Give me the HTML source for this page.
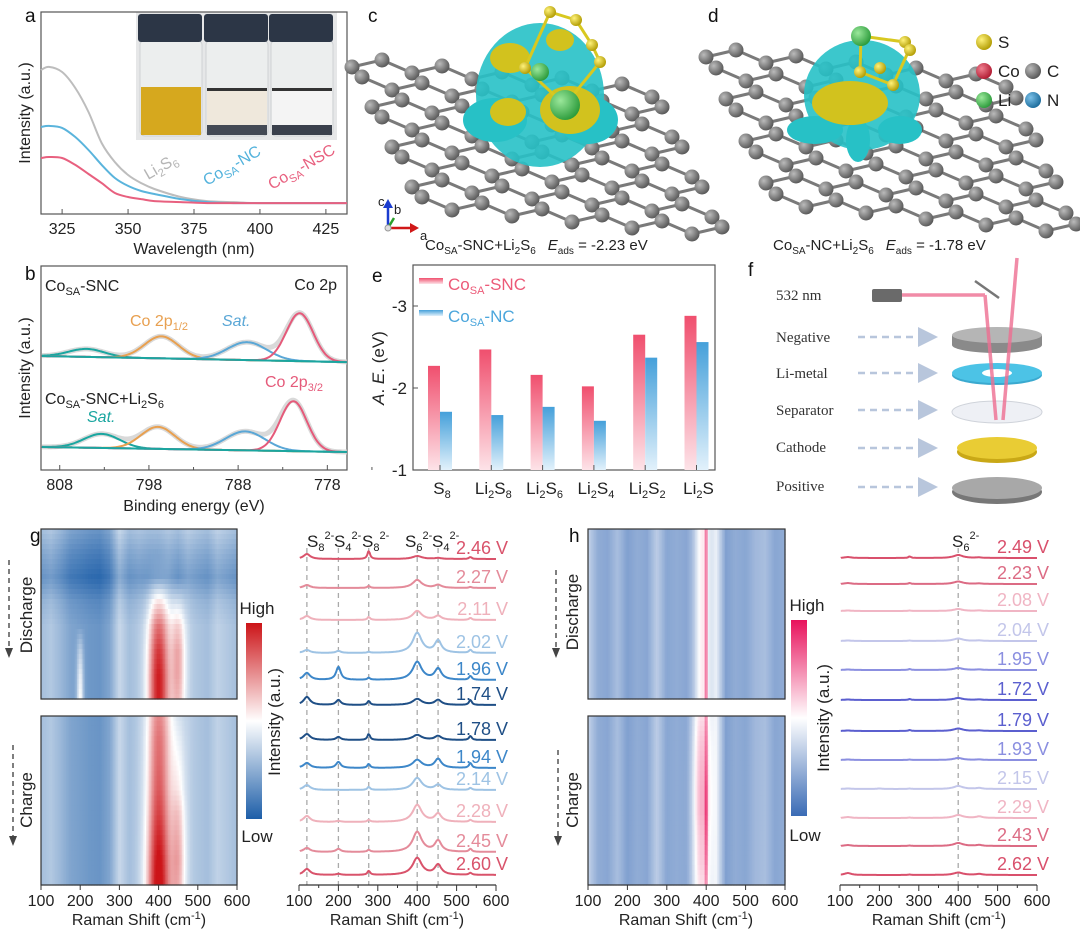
<!DOCTYPE html>
<html><head><meta charset="utf-8"><style>
html,body{margin:0;padding:0;background:#fff;}
svg{display:block;font-family:"Liberation Sans",sans-serif;}
.t{font-size:16px;fill:#222}
.serif{font-family:"Liberation Serif",serif;font-size:15px;fill:#333}
</style></head><body>
<svg id="fig" width="1080" height="937" viewBox="0 0 1080 937" xmlns="http://www.w3.org/2000/svg">
<defs>
<linearGradient id="gp" x1="0" y1="0" x2="0" y2="1"><stop offset="0" stop-color="#f04f6e"/><stop offset="1" stop-color="#fde3e8"/></linearGradient>
<linearGradient id="gb" x1="0" y1="0" x2="0" y2="1"><stop offset="0" stop-color="#45a0da"/><stop offset="1" stop-color="#e2f1fb"/></linearGradient>
<linearGradient id="cbg" x1="0" y1="1" x2="0" y2="0"><stop offset="0" stop-color="#1d5ea8"/><stop offset="0.5" stop-color="#ffffff"/><stop offset="1" stop-color="#cc1418"/></linearGradient>
<linearGradient id="cbh" x1="0" y1="1" x2="0" y2="0"><stop offset="0" stop-color="#3a6bb5"/><stop offset="0.5" stop-color="#ffffff"/><stop offset="1" stop-color="#e8125c"/></linearGradient>
<radialGradient id="atomC" cx="0.35" cy="0.35" r="0.7"><stop offset="0" stop-color="#bbb"/><stop offset="1" stop-color="#555"/></radialGradient>
<radialGradient id="atomS" cx="0.35" cy="0.35" r="0.7"><stop offset="0" stop-color="#fff27a"/><stop offset="1" stop-color="#b09a00"/></radialGradient>
<radialGradient id="atomLi" cx="0.35" cy="0.35" r="0.7"><stop offset="0" stop-color="#9be89b"/><stop offset="1" stop-color="#2a9a3a"/></radialGradient>
<radialGradient id="atomCo" cx="0.35" cy="0.35" r="0.7"><stop offset="0" stop-color="#f08090"/><stop offset="1" stop-color="#b01830"/></radialGradient>
<radialGradient id="atomN" cx="0.35" cy="0.35" r="0.7"><stop offset="0" stop-color="#7ac0e8"/><stop offset="1" stop-color="#1a6a9a"/></radialGradient>
<marker id="arrB" markerWidth="8" markerHeight="8" refX="4" refY="4" orient="auto"><path d="M0,0 L8,4 L0,8 z" fill="#b8c6dc"/></marker>
</defs>

<g id="panelA">
<text x="25" y="22" font-size="19" fill="#111">a</text>
<g>
<rect x="136" y="12" width="201" height="128" fill="#e6e7e8"/>
<rect x="140" y="40" width="62" height="96" rx="5" fill="#eceeee" stroke="#cfd2d4"/>
<rect x="141" y="87" width="60" height="48" fill="#d6a81e"/>
<rect x="206" y="40" width="62" height="96" rx="5" fill="#eceeee" stroke="#cfd2d4"/>
<rect x="207" y="90" width="60" height="36" fill="#efe8dc"/><rect x="207" y="88" width="60" height="3" fill="#333"/><rect x="207" y="125" width="60" height="10" fill="#444a55"/>
<rect x="271" y="40" width="62" height="96" rx="5" fill="#eceeee" stroke="#cfd2d4"/>
<rect x="272" y="90" width="60" height="36" fill="#f4f4f4"/><rect x="272" y="88" width="60" height="3" fill="#333"/><rect x="272" y="125" width="60" height="10" fill="#3a404c"/>
<rect x="138" y="14" width="64" height="28" rx="3" fill="#2c3646"/>
<rect x="204" y="14" width="64" height="28" rx="3" fill="#2c3646"/>
<rect x="269" y="14" width="64" height="28" rx="3" fill="#2c3646"/>
</g>
<rect x="41" y="12" width="306" height="202" fill="none" stroke="#555" stroke-width="1.2"/>
<g id="aCurves"></g><g id="aTicks"></g>
<text x="148" y="180" font-size="16" fill="#b5b5b5" transform="rotate(-30 148 180)">Li<tspan font-size="11" dy="4">2</tspan><tspan dy="-4">S</tspan><tspan font-size="11" dy="4">6</tspan></text>
<text x="207" y="186" font-size="16" fill="#52b2dc" transform="rotate(-30 207 186)">Co<tspan font-size="11" dy="4">SA</tspan><tspan dy="-4">-NC</tspan></text>
<text x="272" y="190" font-size="16" fill="#e8607f" transform="rotate(-30 272 190)">Co<tspan font-size="11" dy="4">SA</tspan><tspan dy="-4">-NSC</tspan></text>
<text x="30" y="113" class="t" text-anchor="middle" transform="rotate(-90 30 113)">Intensity (a.u.)</text>
<text x="194" y="254" class="t" text-anchor="middle">Wavelength (nm)</text>
</g>

<g id="panelB">
<text x="25" y="280" font-size="19" fill="#111">b</text>
<rect x="41" y="266" width="306" height="204" fill="none" stroke="#555" stroke-width="1.2"/>
<g id="bCurves"></g><g id="bTicks"></g>
<text x="45" y="291" font-size="16" fill="#222">Co<tspan font-size="11" dy="4">SA</tspan><tspan dy="-4">-SNC</tspan></text>
<text x="337" y="290" font-size="16" fill="#222" text-anchor="end">Co 2p</text>
<text x="130" y="326" font-size="16" fill="#e8a050">Co 2p<tspan font-size="11" dy="4">1/2</tspan></text>
<text x="222" y="326" font-size="16" fill="#5aa7d6" font-style="italic">Sat.</text>
<text x="45" y="404" font-size="16" fill="#222">Co<tspan font-size="11" dy="4">SA</tspan><tspan dy="-4">-SNC+Li</tspan><tspan font-size="11" dy="4">2</tspan><tspan dy="-4">S</tspan><tspan font-size="11" dy="4">6</tspan></text>
<text x="265" y="387" font-size="16" fill="#e55a7a">Co 2p<tspan font-size="11" dy="4">3/2</tspan></text>
<text x="87" y="422" font-size="16" fill="#1aa6a0" font-style="italic">Sat.</text>
<text x="30" y="368" class="t" text-anchor="middle" transform="rotate(-90 30 368)">Intensity (a.u.)</text>
<text x="194" y="511" class="t" text-anchor="middle">Binding energy (eV)</text>
</g>

<g id="panelC">
<text x="368" y="22" font-size="19" fill="#111">c</text>
<g id="latC"></g>
<g>
<ellipse cx="540" cy="95" rx="64" ry="72" fill="#27c1c6" opacity="0.9"/>
<ellipse cx="495" cy="120" rx="32" ry="22" fill="#27c1c6"/>
<ellipse cx="588" cy="120" rx="30" ry="24" fill="#27c1c6"/>
<ellipse cx="510" cy="58" rx="20" ry="15" fill="#d2c21e"/>
<ellipse cx="570" cy="110" rx="30" ry="24" fill="#d2c21e"/>
<ellipse cx="508" cy="112" rx="18" ry="14" fill="#d2c21e"/>
<ellipse cx="560" cy="40" rx="14" ry="11" fill="#d2c21e"/>
<polyline points="550,12 576,20 592,45 600,62 565,105 525,68 550,12" fill="none" stroke="#d8c820" stroke-width="3"/>
<circle cx="550" cy="12" r="6" fill="url(#atomS)"/><circle cx="576" cy="20" r="6" fill="url(#atomS)"/><circle cx="592" cy="45" r="6" fill="url(#atomS)"/><circle cx="600" cy="62" r="6" fill="url(#atomS)"/><circle cx="525" cy="68" r="6" fill="url(#atomS)"/>
<circle cx="540" cy="72" r="9" fill="url(#atomLi)"/>
<circle cx="565" cy="105" r="15" fill="url(#atomLi)"/>
</g>
<g>
<line x1="388" y1="228" x2="388" y2="206" stroke="#1a3ccf" stroke-width="2.5"/><path d="M383,208 L388,199 L393,208z" fill="#1a3ccf"/>
<line x1="388" y1="228" x2="412" y2="228" stroke="#d01818" stroke-width="2.5"/><path d="M410,223 L419,228 L410,233z" fill="#d01818"/>
<line x1="388" y1="228" x2="394" y2="218" stroke="#2aa02a" stroke-width="2.5"/>
<circle cx="388" cy="228" r="3" fill="#ddd" stroke="#999"/>
<text x="378" y="206" font-size="13" fill="#222">c</text><text x="394" y="214" font-size="13" fill="#222">b</text><text x="420" y="240" font-size="13" fill="#222">a</text>
</g>
<text x="425" y="250" font-size="15" fill="#222">Co<tspan font-size="10" dy="4">SA</tspan><tspan dy="-4">-SNC+Li</tspan><tspan font-size="10" dy="4">2</tspan><tspan dy="-4">S</tspan><tspan font-size="10" dy="4">6</tspan><tspan dy="-4" dx="12" font-style="italic">E</tspan><tspan font-size="10" dy="4">ads</tspan><tspan dy="-4"> = -2.23 eV</tspan></text>
</g>

<g id="panelD">
<text x="708" y="22" font-size="19" fill="#111">d</text>
<g id="latD"></g>
<g>
<ellipse cx="862" cy="95" rx="58" ry="55" fill="#27c1c6" opacity="0.9"/>
<ellipse cx="815" cy="130" rx="28" ry="14" fill="#27c1c6"/>
<ellipse cx="900" cy="130" rx="22" ry="14" fill="#27c1c6"/>
<ellipse cx="858" cy="140" rx="12" ry="22" fill="#27c1c6"/>
<ellipse cx="850" cy="103" rx="38" ry="22" fill="#d2c21e"/>
<polyline points="861,36 905,42 910,48 893,85 860,72 861,36" fill="none" stroke="#d8c820" stroke-width="3"/>
<circle cx="905" cy="42" r="6" fill="url(#atomS)"/><circle cx="910" cy="50" r="6" fill="url(#atomS)"/><circle cx="893" cy="85" r="6" fill="url(#atomS)"/><circle cx="860" cy="72" r="6" fill="url(#atomS)"/><circle cx="880" cy="68" r="6" fill="url(#atomS)"/>
<circle cx="861" cy="36" r="10" fill="url(#atomLi)"/>
</g>
<g>
<circle cx="984" cy="42" r="8" fill="url(#atomS)"/><text x="998" y="48" font-size="17" fill="#222">S</text>
<circle cx="984" cy="71" r="8" fill="url(#atomCo)"/><text x="998" y="77" font-size="17" fill="#222">Co</text>
<circle cx="1033" cy="71" r="8" fill="url(#atomC)"/><text x="1047" y="77" font-size="17" fill="#222">C</text>
<circle cx="984" cy="100" r="8" fill="url(#atomLi)"/><text x="998" y="106" font-size="17" fill="#222">Li</text>
<circle cx="1033" cy="100" r="8" fill="url(#atomN)"/><text x="1047" y="106" font-size="17" fill="#222">N</text>
</g>
<text x="773" y="250" font-size="15" fill="#222">Co<tspan font-size="10" dy="4">SA</tspan><tspan dy="-4">-NC+Li</tspan><tspan font-size="10" dy="4">2</tspan><tspan dy="-4">S</tspan><tspan font-size="10" dy="4">6</tspan><tspan dy="-4" dx="12" font-style="italic">E</tspan><tspan font-size="10" dy="4">ads</tspan><tspan dy="-4"> = -1.78 eV</tspan></text>
</g>

<g id="panelE">
<text x="372" y="282" font-size="19" fill="#111">e</text>
<rect x="413" y="265" width="302" height="205" fill="none" stroke="#555" stroke-width="1.2"/>
<g id="eBars"></g>
<rect x="419" y="278" width="24" height="6" fill="url(#gp)"/>
<text x="448" y="290" font-size="17" fill="#ec5a78">Co<tspan font-size="11" dy="4">SA</tspan><tspan dy="-4">-SNC</tspan></text>
<rect x="419" y="310" width="24" height="6" fill="url(#gb)"/>
<text x="448" y="322" font-size="17" fill="#4ba6dc">Co<tspan font-size="11" dy="4">SA</tspan><tspan dy="-4">-NC</tspan></text>
<text x="384" y="368" font-size="17" fill="#222" text-anchor="middle" transform="rotate(-90 384 368)"><tspan font-style="italic">A</tspan>. <tspan font-style="italic">E</tspan>. (eV)</text>
</g>

<g id="panelF">
<text x="748" y="276" font-size="19" fill="#111">f</text>
<text x="776" y="300" class="serif">532 nm</text>
<text x="776" y="342" class="serif">Negative</text>
<text x="776" y="378" class="serif">Li-metal</text>
<text x="776" y="415" class="serif">Separator</text>
<text x="776" y="452" class="serif">Cathode</text>
<text x="776" y="491" class="serif">Positive</text>
<g stroke="#b8c6dc" stroke-width="2.5" stroke-dasharray="7,5" fill="none">
<line x1="858" y1="337" x2="928" y2="337" marker-end="url(#arrB)"/>
<line x1="858" y1="373" x2="928" y2="373" marker-end="url(#arrB)"/>
<line x1="858" y1="410" x2="928" y2="410" marker-end="url(#arrB)"/>
<line x1="858" y1="448" x2="928" y2="448" marker-end="url(#arrB)"/>
<line x1="858" y1="487" x2="928" y2="487" marker-end="url(#arrB)"/>
</g>
<rect x="872" y="289" width="30" height="13" rx="2" fill="#6a6a6a"/>
<line x1="975" y1="281" x2="999" y2="298" stroke="#777" stroke-width="2.5"/>
<g><ellipse cx="997" cy="492" rx="45" ry="12" fill="#777"/><ellipse cx="997" cy="488" rx="45" ry="11" fill="#a8a8a8"/></g>
<g><ellipse cx="997" cy="452" rx="40" ry="11" fill="#c9a816"/><ellipse cx="997" cy="448" rx="40" ry="11" fill="#e9cc34"/></g>
<ellipse cx="997" cy="412" rx="45" ry="11" fill="#eef0f5" stroke="#cfd3da"/>
<g><ellipse cx="997" cy="375" rx="45" ry="10" fill="#3aa9cf"/><ellipse cx="997" cy="373" rx="45" ry="10" fill="#4cc3e6"/><ellipse cx="997" cy="373" rx="15" ry="4" fill="#fff"/></g>
<g><rect x="952" y="335" width="90" height="10" fill="#8a8a8a"/><ellipse cx="997" cy="345" rx="45" ry="8" fill="#8a8a8a"/><ellipse cx="997" cy="335" rx="45" ry="8" fill="#b5b5b5"/></g>
<g stroke="#ee6f92" stroke-width="3.5" opacity="0.8" fill="none">
<line x1="902" y1="295" x2="985" y2="295"/>
<line x1="985" y1="295" x2="996" y2="420"/>
<line x1="1003" y1="420" x2="1017" y2="258"/>
</g>
</g>

<g id="panelG">
<g id="gHeat"></g>
<rect x="41" y="529" width="196" height="170" fill="none" stroke="#333" stroke-width="1.2"/>
<rect x="41" y="716" width="196" height="169" fill="none" stroke="#333" stroke-width="1.2"/>
<text x="30" y="542" font-size="19" fill="#111">g</text>
<text x="32" y="615" font-size="17" fill="#222" text-anchor="middle" transform="rotate(-90 32 615)">Discharge</text>
<line x1="9" y1="560" x2="9" y2="648" stroke="#555" stroke-width="1.5" stroke-dasharray="5,4"/><path d="M5,648 L13,648 L9,658z" fill="#444"/>
<text x="32" y="800" font-size="17" fill="#222" text-anchor="middle" transform="rotate(-90 32 800)">Charge</text>
<line x1="13" y1="745" x2="13" y2="836" stroke="#555" stroke-width="1.5" stroke-dasharray="5,4"/><path d="M9,836 L17,836 L13,846z" fill="#444"/>
<rect x="246" y="623" width="16" height="196" fill="url(#cbg)"/>
<text x="257" y="614" font-size="17" fill="#222" text-anchor="middle">High</text>
<text x="257" y="842" font-size="17" fill="#222" text-anchor="middle">Low</text>
<text x="280" y="722" font-size="17" fill="#222" text-anchor="middle" transform="rotate(-90 280 722)">Intensity (a.u.)</text>
<text x="139" y="925" font-size="16" fill="#222" text-anchor="middle">Raman Shift (cm<tspan font-size="11" dy="-6">-1</tspan><tspan dy="6">)</tspan></text>
<g id="gSpec"></g>
<text x="397" y="925" font-size="16" fill="#222" text-anchor="middle">Raman Shift (cm<tspan font-size="11" dy="-6">-1</tspan><tspan dy="6">)</tspan></text>
</g>

<g id="panelH">
<g id="hHeat"></g>
<rect x="588" y="529" width="197" height="170" fill="none" stroke="#333" stroke-width="1.2"/>
<rect x="588" y="716" width="197" height="169" fill="none" stroke="#333" stroke-width="1.2"/>
<text x="569" y="542" font-size="19" fill="#111">h</text>
<text x="578" y="612" font-size="17" fill="#222" text-anchor="middle" transform="rotate(-90 578 612)">Discharge</text>
<line x1="556" y1="570" x2="556" y2="648" stroke="#555" stroke-width="1.5" stroke-dasharray="5,4"/><path d="M552,648 L560,648 L556,658z" fill="#444"/>
<text x="578" y="800" font-size="17" fill="#222" text-anchor="middle" transform="rotate(-90 578 800)">Charge</text>
<line x1="558" y1="750" x2="558" y2="836" stroke="#555" stroke-width="1.5" stroke-dasharray="5,4"/><path d="M554,836 L562,836 L558,846z" fill="#444"/>
<rect x="791" y="620" width="16" height="196" fill="url(#cbh)"/>
<text x="807" y="611" font-size="17" fill="#222" text-anchor="middle">High</text>
<text x="805" y="841" font-size="17" fill="#222" text-anchor="middle">Low</text>
<text x="829" y="718" font-size="17" fill="#222" text-anchor="middle" transform="rotate(-90 829 718)">Intensity (a.u.)</text>
<text x="686" y="925" font-size="16" fill="#222" text-anchor="middle">Raman Shift (cm<tspan font-size="11" dy="-6">-1</tspan><tspan dy="6">)</tspan></text>
<g id="hSpec"></g>
<text x="939" y="925" font-size="16" fill="#222" text-anchor="middle">Raman Shift (cm<tspan font-size="11" dy="-6">-1</tspan><tspan dy="6">)</tspan></text>
</g>
</svg>

<script>
const aWavelengths = [317,320,325,330,335,340,345,350,355,360,370,380,390,400,433];
const aLi2S6 = [0.713,0.728,0.703,0.624,0.505,0.351,0.257,0.193,0.153,0.124,0.084,0.064,0.059,0.054,0.054];
const aCoNC  = [0.431,0.436,0.426,0.381,0.317,0.243,0.178,0.139,0.114,0.099,0.074,0.059,0.054,0.054,0.054];
const aCoNSC = [0.277,0.282,0.277,0.243,0.198,0.153,0.104,0.084,0.074,0.064,0.059,0.054,0.054,0.054,0.054];
const aTicks = [325,350,375,400,425];
const bCenters = [805.0,796.6,787.0,781.1];
const bTopAmps = [0.39,1.08,0.88,2.35];
const bBotCenters = [803.3,797.0,787.2,781.8];
const bBotAmps = [0.69,1.08,0.93,2.45];
const bSigmas = [2.0,1.9,2.2,1.5];
const bTopBase = [5.59,5.29];
const bBotBase = [1.13,0.88];
const bTicks = [808,798,788,778];
const eCategories = ['S8','Li2S8','Li2S6','Li2S4','Li2S2','Li2S'];
const eSNC = [-2.27,-2.47,-2.16,-2.02,-2.65,-2.88];
const eNC  = [-1.71,-1.67,-1.77,-1.60,-2.37,-2.56];
const eTicks = [-3,-2,-1];
const ramanPeaks = [120,200,277,400,453,535];
const ramanWidths = [10,7,4,14,10,4];
const ramanTicks = [100,200,300,400,500,600];
const gVoltages = ['2.46 V','2.27 V','2.11 V','2.02 V','1.96 V','1.74 V','1.78 V','1.94 V','2.14 V','2.28 V','2.45 V','2.60 V'];
const gAmps = [[5,0,8,3,1,2],[3,0,2,8,3,1],[4,0,3,9,4,2],[3,2,1,20,12,3],[7,13,2,18,11,4],[8,5,4,6,5,5],[6,3,6,5,4,4],[5,6,4,8,9,5],[5,0,3,12,5,2],[6,1,2,17,8,2],[4,3,2,20,11,3],[6,1,4,17,10,2]];
const gBaselines = [559,588,620,653,680,705,740,768,790,822,852,875];
const gColors = ['#d9536b','#e48b9a','#efb1bb','#9ec3e4','#3d87c9','#1f4f86','#1f4f86','#3d87c9','#9ec3e4','#efb1bb','#e48b9a','#d9536b'];
const gDashed = [120,200,277,400,453];
const hVoltages = ['2.49 V','2.23 V','2.08 V','2.04 V','1.95 V','1.72 V','1.79 V','1.93 V','2.15 V','2.29 V','2.43 V','2.62 V'];
const hAmps = [[1,0,1.5,3,0.5,0],[1,0,1,2.5,0.5,0],[0.5,0,0.5,2,0.5,0],[0.5,0,0.5,2.5,0.5,0],[0.5,0,1,2,0.5,0],[0.5,0,1,2,0.5,0],[0.5,0,1,2.5,0.5,0],[0.5,0,0.5,2,0.5,0],[0.5,0.5,0.5,3,1,0],[1,0,0.5,3,1.5,0],[1,0,0.5,3,1,0],[2,0,0.5,2.5,1,0]];
const hBaselines = [558,584,611,641,670,700,731,760,789,818,846,875];
const hColors = ['#d9506c','#dc6b84','#f0b5c4','#c3c6ea','#8b8fe0','#5b5fcf','#5b5fcf','#8b8fe0','#c3c6ea','#f0b5c4','#dc6b84','#d9506c'];
const heatShifts = [100,125,150,175,200,225,250,275,300,325,350,375,400,425,450,475,500,525,550,575,600];
const gStripes = [0.30,0.33,0.28,0.22,0.20,0.18,0.17,0.22,0.38,0.30,0.32,0.30,0.30,0.33,0.30,0.35,0.32,0.30,0.36,0.33,0.30];
const gTopRowOffset = [0,-0.08,-0.14,-0.04,0,0,0,0];
const gTop400 = [0,0,0.05,0.3,0.5,0.62,0.68,0.68];
const gTop450 = [0,0,0,0.12,0.28,0.36,0.36,0.32];
const gTop200 = [0,0,0,0,0,0.15,0.25,0.3];
const gBot400 = [0.45,0.5,0.52,0.55,0.6,0.66,0.72,0.75];
const gBot450 = [0.08,0.12,0.16,0.2,0.28,0.32,0.35,0.32];
const hStripes = [0.35,0.22,0.2,0.28,0.18,0.22,0.2,0.33,0.2,0.22,0.2,0.3,0.25,0.45,0.18,0.22,0.2,0.26,0.28,0.2,0.22];
const hTopLine = [0.45,0.45,0.45,0.45,0.45,0.45,0.45,0.45];
const hTopHalo = [0.28,0.28,0.28,0.28,0.28,0.28,0.28,0.28];
const hBotLine = [0.3,0.32,0.35,0.4,0.42,0.4,0.35,0.3];
const hBotHalo = [0.3,0.35,0.38,0.4,0.4,0.36,0.34,0.3];

const NS='http://www.w3.org/2000/svg';
function mk(tag, attrs, parent){const e=document.createElementNS(NS,tag);for(const k in attrs)e.setAttribute(k,attrs[k]);parent.appendChild(e);return e;}
function smooth(p){let d=`M${p[0][0].toFixed(1)},${p[0][1].toFixed(1)}`;for(let i=0;i<p.length-1;i++){const p0=p[i-1]||p[i],p1=p[i],p2=p[i+1],p3=p[i+2]||p2;const c1x=p1[0]+(p2[0]-p0[0])/6,c1y=p1[1]+(p2[1]-p0[1])/6,c2x=p2[0]-(p3[0]-p1[0])/6,c2y=p2[1]-(p3[1]-p1[1])/6;d+=`C${c1x.toFixed(1)},${c1y.toFixed(1)} ${c2x.toFixed(1)},${c2y.toFixed(1)} ${p2[0].toFixed(1)},${p2[1].toFixed(1)}`;}return d;}

const xA=w=>41+(w-317)*(306/116), yA=v=>214-v*202;
const aG=document.getElementById('aCurves');
[[aLi2S6,'#bdbdbd','curve-li2s6'],[aCoNC,'#5ab4dc','curve-cosa-nc'],[aCoNSC,'#e8607f','curve-cosa-nsc']].forEach(([arr,col,nm])=>{
  const p=mk('path',{d:smooth(aWavelengths.map((w,i)=>[xA(w),yA(arr[i])])),fill:'none',stroke:col,'stroke-width':2},aG);
  
  
});
const aT=document.getElementById('aTicks');
aTicks.forEach(t=>{
  mk('line',{x1:xA(t),x2:xA(t),y1:214,y2:209,stroke:'#555'},aT);
  const tx=mk('text',{x:xA(t),y:234,'text-anchor':'middle',class:'t'},aT);tx.textContent=t;
  
  
});

const xB=e=>41+(810.1-e)*8.92, yB=v=>470-v*20.4;
const bG=document.getElementById('bCurves');
const bCols=['#1aa6a0','#e8a050','#5aa7d6','#e55a7a'];
function gauss(x,c,s){return Math.exp(-((x-c)**2)/(2*s*s));}
function drawXPS(centers,amps,base,nm){
  const E=[];for(let e=810;e>=775.8;e-=0.3)E.push(e);
  const baseAt=e=>base[0]+(base[1]-base[0])*(810-e)/(810-775.8);
  const env=E.map(e=>[xB(e),yB(baseAt(e)+centers.reduce((s,c,k)=>s+amps[k]*gauss(e,c,bSigmas[k]),0))]);
  const en=mk('path',{d:smooth(env),fill:'none',stroke:'#d0d0d0','stroke-width':5,opacity:0.8},bG);
  
  
  centers.forEach((c,k)=>{
    const pts=E.map(e=>[xB(e),yB(baseAt(e)+amps[k]*gauss(e,c,bSigmas[k]))]);
    const p=mk('path',{d:smooth(pts),fill:'none',stroke:bCols[k],'stroke-width':2},bG);
    
    
  });
  const bl=mk('line',{x1:xB(810),x2:xB(775.8),y1:yB(base[0]),y2:yB(base[1]),stroke:'#1aa6a0','stroke-width':2},bG);
  
  
}
drawXPS(bCenters,bTopAmps,bTopBase,'xps-cosa-snc');
drawXPS(bBotCenters,bBotAmps,bBotBase,'xps-cosa-snc-li2s6');
const bT=document.getElementById('bTicks');
bTicks.forEach(t=>{
  mk('line',{x1:xB(t),x2:xB(t),y1:470,y2:465,stroke:'#555'},bT);
  mk('line',{x1:xB(t-5),x2:xB(t-5),y1:470,y2:467,stroke:'#555'},bT);
  const tx=mk('text',{x:xB(t),y:490,'text-anchor':'middle',class:'t'},bT);tx.textContent=t;
  
  
});

function lattice(gid,ox,oy,v1,v2,rows,cols){
  const g=document.getElementById(gid);const pos=[];
  for(let r=0;r<rows;r++){pos[r]=[];for(let c=0;c<cols;c++){pos[r][c]=[ox+c*v1[0]+r*v2[0],oy+c*v1[1]+r*v2[1]+((c+r)%2?-5:5)];}}
  for(let r=0;r<rows;r++)for(let c=0;c<cols;c++){const p=pos[r][c];
    if(c<cols-1)mk('line',{x1:p[0],y1:p[1],x2:pos[r][c+1][0],y2:pos[r][c+1][1],stroke:'#7a7a7a','stroke-width':3},g);
    if(r<rows-1&&(c+r)%2===0)mk('line',{x1:p[0],y1:p[1],x2:pos[r+1][c][0],y2:pos[r+1][c][1],stroke:'#7a7a7a','stroke-width':3},g);}
  for(let r=0;r<rows;r++)for(let c=0;c<cols;c++){const a=mk('circle',{cx:pos[r][c][0],cy:pos[r][c][1],r:7.5,fill:'url(#atomC)'},g);
    
    }
}
lattice('latC',352,62,[30,3],[10,20],8,11);
lattice('latD',706,52,[30,3],[10,21],8,11);

const yE=v=>470+(v+1)*82, xE=i=>440+i*51.3;
const eG=document.getElementById('eBars');
eCategories.forEach((c,i)=>{
  const b1=mk('rect',{x:xE(i)-12,y:yE(eSNC[i]),width:12,height:470-yE(eSNC[i]),fill:'url(#gp)'},eG);
  
  
  const b2=mk('rect',{x:xE(i),y:yE(eNC[i]),width:12,height:470-yE(eNC[i]),fill:'url(#gb)'},eG);
  
  
  mk('line',{x1:xE(i),x2:xE(i),y1:470,y2:465,stroke:'#555'},eG);
  const tx=mk('text',{x:xE(i)+2,y:494,'text-anchor':'middle','font-size':17,fill:'#222'},eG);
  const m=c.match(/^(Li)?(2)?(S)(\d)?$/);
  let html='';if(m[1])html+='Li<tspan font-size="11" dy="4">2</tspan><tspan dy="-4">S</tspan>';else html+='S';
  if(m[4])html+='<tspan font-size="11" dy="4">'+m[4]+'</tspan>';
  tx.innerHTML=html;
  
  
});
eTicks.forEach(t=>{
  mk('line',{x1:413,x2:418,y1:yE(t),y2:yE(t),stroke:'#555'},eG);
  const tx=mk('text',{x:407,y:yE(t)+6,'text-anchor':'end','font-size':17,fill:'#222'},eG);tx.textContent=t;
  
  
});

function lerp(a,b,t){return a.map((v,i)=>Math.round(v+(b[i]-v)*t));}
function cmap(v,lo,hi){v=Math.max(0,Math.min(1,v));const c=v<0.5?lerp(lo,[255,255,255],v/0.5):lerp([255,255,255],hi,(v-0.5)/0.5);return `rgb(${c[0]},${c[1]},${c[2]})`;}
function stripeAt(s,arr){const f=(s-100)/25,i=Math.min(19,Math.floor(f)),t=f-i;return arr[i]+(arr[i+1]-arr[i])*t;}
function rowVal(arr,r){const f=r*(arr.length-1),i=Math.min(arr.length-2,Math.floor(f)),t=f-i;return arr[i]+(arr[i+1]-arr[i])*t;}
function heat(gid,x0,y0,w,h,fn,lo,hi,nm){
  const g=document.getElementById(gid);const nc=125,nr=34;const cw=w/nc,rh=h/nr;
  for(let r=0;r<nr;r++)for(let c=0;c<nc;c++){const s=100+(c+0.5)*4;const v=fn(s,(r+0.5)/nr);
    const cell=mk('rect',{x:(x0+c*cw).toFixed(2),y:(y0+r*rh).toFixed(2),width:(cw+0.6).toFixed(2),height:(rh+0.6).toFixed(2),fill:cmap(v,lo,hi)},g);
    
    }
}
const gLo=[29,94,168],gHi=[204,20,24],hLo=[58,107,181],hHi=[232,18,92];
heat('gHeat',41,529,196,170,(s,r)=>stripeAt(s,gStripes)+rowVal(gTopRowOffset,r)+rowVal(gTop400,r)*gauss(s,400,20)+rowVal(gTop450,r)*gauss(s,450,13)+rowVal(gTop200,r)*gauss(s,200,6),gLo,gHi,'heatmap-g-discharge');
heat('gHeat',41,716,196,169,(s,r)=>stripeAt(s,gStripes)+rowVal(gBot400,r)*gauss(s,400,22)+rowVal(gBot450,r)*gauss(s,450,13),gLo,gHi,'heatmap-g-charge');
heat('hHeat',588,529,197,170,(s,r)=>stripeAt(s,hStripes)+rowVal(hTopLine,r)*gauss(s,400,2)+rowVal(hTopHalo,r)*gauss(s,392,12),hLo,hHi,'heatmap-h-discharge');
heat('hHeat',588,716,197,169,(s,r)=>stripeAt(s,hStripes)+rowVal(hBotLine,r)*gauss(s,400,2.5)+rowVal(hBotHalo,r)*gauss(s,390,16),hLo,hHi,'heatmap-h-charge');

function heatTicks(gid,x0,w){
  const g=document.getElementById(gid);
  ramanTicks.forEach(t=>{const x=x0+(t-100)*w/500;
    mk('line',{x1:x,x2:x,y1:885,y2:890,stroke:'#333'},g);
    const tx=mk('text',{x:x,y:906,'text-anchor':'middle',class:'t'},g);tx.textContent=t;
    
    });
}
heatTicks('gHeat',41,196);heatTicks('hHeat',588,197);

function spectra(gid,x0,w,volts,amps,bases,cols,dashes,nm){
  const g=document.getElementById(gid);const xR=s=>x0+(s-100)*w/500;
  dashes.forEach(d=>{const l=mk('line',{x1:xR(d),x2:xR(d),y1:548,y2:885,stroke:'#aaa','stroke-width':1.3,'stroke-dasharray':'5,4'},g);
    
    });
  volts.forEach((v,i)=>{
    const pts=[];for(let s=102;s<=600;s+=3){let y=bases[i];ramanPeaks.forEach((c,k)=>{y-=amps[i][k]/(1+((s-c)/ramanWidths[k])**2);});pts.push([xR(s),y]);}
    const p=mk('path',{d:smooth(pts),fill:'none',stroke:cols[i],'stroke-width':2},g);
    
    
    const tx=mk('text',{x:x0+w+12,y:bases[i]-5,'text-anchor':'end','font-size':18,fill:cols[i]},g);tx.textContent=v;
    
    
  });
  const ax=mk('line',{x1:x0,x2:x0+w,y1:885,y2:885,stroke:'#333','stroke-width':1.2},g);
  
  
  for(let t=100;t<=600;t+=50){mk('line',{x1:xR(t),x2:xR(t),y1:885,y2:t%100?888:891,stroke:'#333'},g);}
  ramanTicks.forEach(t=>{const tx=mk('text',{x:xR(t),y:906,'text-anchor':'middle',class:'t'},g);tx.textContent=t;
    
    });
}
spectra('gSpec',299,197,gVoltages,gAmps,gBaselines,gColors,gDashed,'raman-g');
spectra('hSpec',840,197,hVoltages,hAmps,hBaselines,hColors,[400],'raman-h');

const gLab=document.getElementById('gSpec');
[['S','8',307],['S','4',334],['S','8',362],['S','6',405],['S','4',432]].forEach(([s,n,x])=>{
  const tx=mk('text',{x:x,y:547,'font-size':17,fill:'#222'},gLab);
  tx.innerHTML=s+'<tspan font-size="11" dy="4">'+n+'</tspan><tspan font-size="11" dy="-12">2-</tspan>';
  
  
});
const hLab=mk('text',{x:952,y:547,'font-size':17,fill:'#222'},document.getElementById('hSpec'));
hLab.innerHTML='S<tspan font-size="11" dy="4">6</tspan><tspan font-size="11" dy="-12">2-</tspan>';


</script>
</body></html>
